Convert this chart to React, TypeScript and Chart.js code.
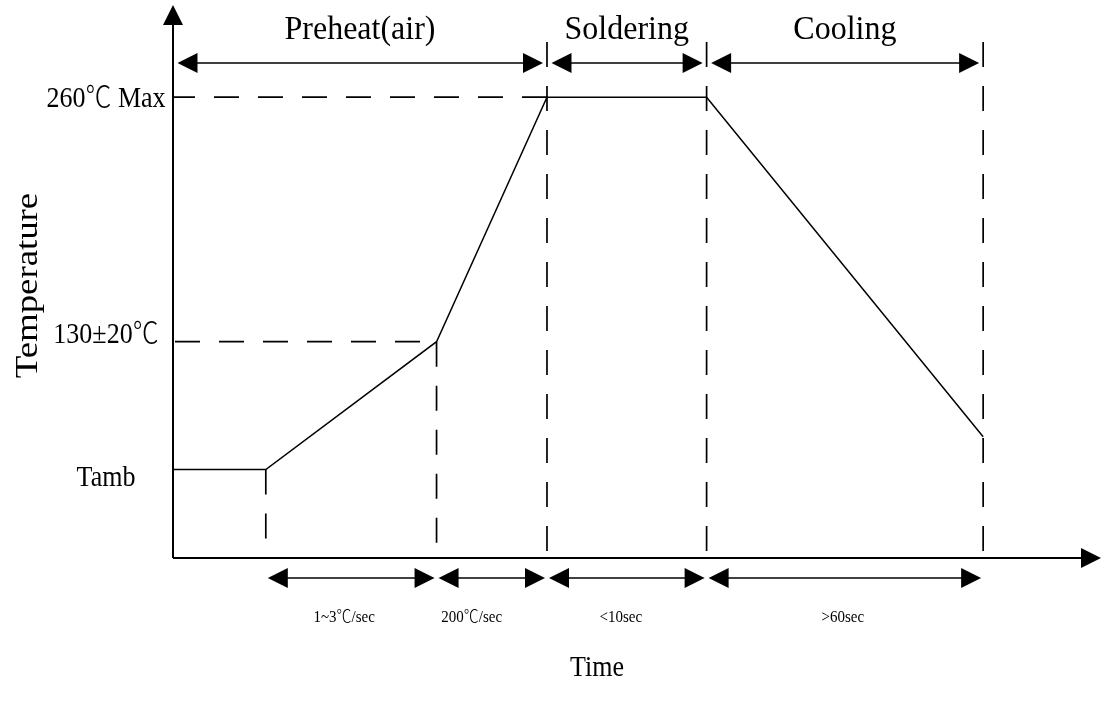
import React, { useEffect, useRef } from 'react';
import { Chart, registerables } from 'chart.js';

Chart.register(...registerables);

// ---- data ----
const profileTimes = [0, 10, 28.4, 40.3, 57.5, 87.3];
const profileTemps = [62, 62, 130, 260, 260, 79.5];
const yMarkValues = [260, 130, 62];
const yMarkLabels = ['260℃ Max', '130±20℃', 'Tamb'];
const phaseBounds = [0, 40.3, 57.5, 87.3];
const phaseLabels = ['Preheat(air)', 'Soldering', 'Cooling'];
const rateBounds = [10, 28.4, 40.3, 57.5, 87.3];
const rateLabels = ['1~3℃/sec', '200℃/sec', '<10sec', '>60sec'];
const xAxisTitle = 'Time';
const yAxisTitle = 'Temperature';
const X_MIN = 0;
const X_MAX = 100;
const Y_MIN = 15;
const Y_MAX = 309;

// ---- layout / style (not data) ----
const SERIF = "'Liberation Serif', 'Times New Roman', 'Noto Sans CJK SC', serif";
const DASH = [25, 19];
const yMarkBaselineOffsets = [10, 1, 16];
const rateLabelShifts = [-7, -20, -6, -2];

function dashedLine(ctx: CanvasRenderingContext2D, x1: number, y1: number, x2: number, y2: number) {
  ctx.save();
  ctx.setLineDash(DASH);
  ctx.lineWidth = 1.7;
  ctx.strokeStyle = '#000';
  ctx.beginPath();
  ctx.moveTo(x1, y1);
  ctx.lineTo(x2, y2);
  ctx.stroke();
  ctx.restore();
}

function head(ctx: CanvasRenderingContext2D, tx: number, ty: number, dx: number, dy: number, len = 20, half = 10) {
  const bx = tx - dx * len;
  const by = ty - dy * len;
  const px = -dy;
  const py = dx;
  ctx.beginPath();
  ctx.moveTo(tx, ty);
  ctx.lineTo(bx + px * half, by + py * half);
  ctx.lineTo(bx - px * half, by - py * half);
  ctx.closePath();
  ctx.fill();
}

function doubleArrow(ctx: CanvasRenderingContext2D, x1: number, x2: number, y: number) {
  ctx.save();
  ctx.strokeStyle = '#000';
  ctx.fillStyle = '#000';
  ctx.lineWidth = 1.7;
  ctx.beginPath();
  ctx.moveTo(x1 + 5, y);
  ctx.lineTo(x2 - 5, y);
  ctx.stroke();
  head(ctx, x1, y, -1, 0);
  head(ctx, x2, y, 1, 0);
  ctx.restore();
}

function stretchedText(
  ctx: CanvasRenderingContext2D,
  str: string,
  x: number,
  y: number,
  size: number,
  align: CanvasTextAlign,
  sy = 1.12,
  rotate = 0
) {
  ctx.save();
  ctx.translate(x, y);
  ctx.scale(1, sy);
  if (rotate) ctx.rotate(rotate);
  ctx.font = `300 ${size}px ${SERIF}`;
  ctx.fillStyle = '#000';
  ctx.textAlign = align;
  ctx.textBaseline = 'alphabetic';
  ctx.fillText(str, 0, 0);
  ctx.restore();
}

const diagramPlugin = {
  id: 'reflowDiagram',
  afterDatasetsDraw(chart: any) {
    const ctx: CanvasRenderingContext2D = chart.ctx;
    const xs = chart.scales.x;
    const ys = chart.scales.y;
    const area = chart.chartArea;
    const left = area.left;
    const bottom = area.bottom;
    const topRowY = 63;
    const bottomRowY = 578;
    const guideTop = 42;

    // axes
    ctx.save();
    ctx.strokeStyle = '#000';
    ctx.fillStyle = '#000';
    ctx.lineWidth = 2;
    ctx.beginPath();
    ctx.moveTo(left, bottom);
    ctx.lineTo(left, area.top + 15);
    ctx.moveTo(left, bottom);
    ctx.lineTo(area.right - 15, bottom);
    ctx.stroke();
    head(ctx, left, area.top, 0, -1, 20, 10);
    head(ctx, area.right, bottom, 1, 0, 20, 10);
    ctx.restore();

    // horizontal guides for 260 and 130
    for (let i = 0; i < 2; i++) {
      const v = yMarkValues[i];
      const idx = profileTemps.indexOf(v);
      const py = ys.getPixelForValue(v);
      const px = xs.getPixelForValue(profileTimes[idx]);
      if (i === 0) dashedLine(ctx, px, py, left, py);
      else dashedLine(ctx, left + 2, py, px, py);
    }

    // vertical guides
    rateBounds.forEach((t) => {
      const px = xs.getPixelForValue(t);
      if (phaseBounds.includes(t)) {
        dashedLine(ctx, px, guideTop, px, bottom);
      } else {
        const idx = profileTimes.indexOf(t);
        const py = ys.getPixelForValue(profileTemps[idx]);
        dashedLine(ctx, px, py, px, bottom - 12);
      }
    });

    // top phase arrows + labels
    for (let i = 0; i < phaseLabels.length; i++) {
      const a = xs.getPixelForValue(phaseBounds[i]);
      const b = xs.getPixelForValue(phaseBounds[i + 1]);
      doubleArrow(ctx, a + 4.5, b - 4, topRowY);
      stretchedText(ctx, phaseLabels[i], (a + b) / 2, 39, 32, 'center', 1.08);
    }

    // bottom rate arrows + labels
    for (let i = 0; i < rateLabels.length; i++) {
      const a = xs.getPixelForValue(rateBounds[i]);
      const b = xs.getPixelForValue(rateBounds[i + 1]);
      doubleArrow(ctx, a + 2, b - 2, bottomRowY);
      stretchedText(ctx, rateLabels[i], (a + b) / 2 + rateLabelShifts[i], 622, 15, 'center', 1.1);
    }

    // y marks
    for (let i = 0; i < yMarkValues.length; i++) {
      const py = ys.getPixelForValue(yMarkValues[i]);
      stretchedText(ctx, yMarkLabels[i], left - 67, py + yMarkBaselineOffsets[i], 26, 'center', 1.15);
    }

    // axis titles
    stretchedText(ctx, xAxisTitle, 597, 676, 26, 'center', 1.12);
    stretchedText(ctx, yAxisTitle, 37, (area.top + bottom) / 2 + 4, 32, 'center', 1.15, -Math.PI / 2);
  },
};

export default function App() {
  const canvasRef = useRef<HTMLCanvasElement | null>(null);

  useEffect(() => {
    if (!canvasRef.current) return;
    const chart = new Chart(canvasRef.current, {
      type: 'scatter',
      data: {
        datasets: [
          {
            label: 'Reflow profile',
            data: profileTimes.map((t, i) => ({ x: t, y: profileTemps[i] })),
            showLine: true,
            borderColor: '#000',
            borderWidth: 1.5,
            pointRadius: 0,
            fill: false,
            tension: 0,
          },
        ],
      },
      options: {
        responsive: false,
        animation: false,
        layout: { padding: { left: 173, top: 5, right: 0, bottom: 150 } },
        scales: {
          x: { type: 'linear', min: X_MIN, max: X_MAX, display: false },
          y: { type: 'linear', min: Y_MIN, max: Y_MAX, display: false },
        },
        plugins: {
          legend: { display: false },
          tooltip: { enabled: false },
        },
      },
      plugins: [diagramPlugin],
    });
    return () => chart.destroy();
  }, []);

  return (
    <div style={{ position: 'absolute', left: 0, top: 0, width: 1101, height: 708, background: '#fff' }}>
      <canvas ref={canvasRef} width={1101} height={708} style={{ display: 'block', width: 1101, height: 708 }} />
    </div>
  );
}
